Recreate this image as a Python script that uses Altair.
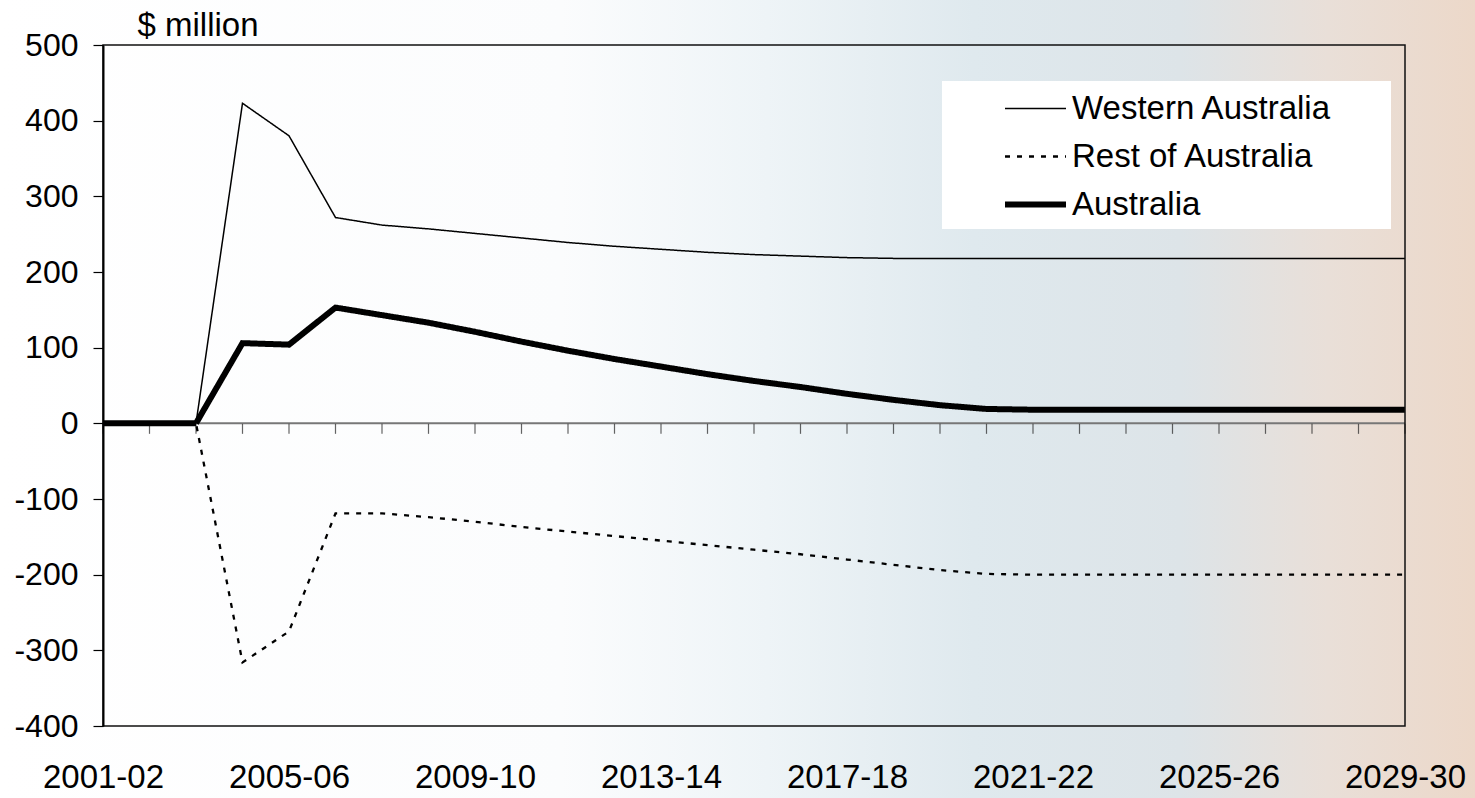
import altair as alt
import pandas as pd

# Financial years on the horizontal axis
years = [
    "2001-02", "2002-03", "2003-04", "2004-05", "2005-06", "2006-07", "2007-08",
    "2008-09", "2009-10", "2010-11", "2011-12", "2012-13", "2013-14", "2014-15",
    "2015-16", "2016-17", "2017-18", "2018-19", "2019-20", "2020-21", "2021-22",
    "2022-23", "2023-24", "2024-25", "2025-26", "2026-27", "2027-28", "2028-29",
    "2029-30",
]

# $ million, deviation from baseline
western_australia = [
    0, 0, 0, 423, 380, 272, 262, 257, 251, 245, 239, 234, 230, 226, 223,
    221, 219, 218, 218, 218, 218, 218, 218, 218, 218, 218, 218, 218, 218,
]
rest_of_australia = [
    0, 0, 0, -316, -275, -119, -119, -124, -130, -137, -143, -149, -155, -161,
    -167, -173, -180, -187, -194, -199, -200, -200, -200, -200, -200, -200,
    -200, -200, -200,
]
australia = [
    0, 0, 0, 106, 104, 153, 143, 133, 121, 108, 96, 85, 75, 65, 56,
    48, 39, 31, 24, 19, 18, 18, 18, 18, 18, 18, 18, 18, 18,
]

series_names = ["Western Australia", "Rest of Australia", "Australia"]
y_ticks = [-400, -300, -200, -100, 0, 100, 200, 300, 400, 500]
x_labels = ["2001-02", "2005-06", "2009-10", "2013-14", "2017-18", "2021-22",
            "2025-26", "2029-30"]

# line styling per series
line_widths = {"Western Australia": 1.5, "Rest of Australia": 2.3, "Australia": 6}
line_dashes = {"Western Australia": [1, 0], "Rest of Australia": [5, 7], "Australia": [1, 0]}

rows = []
for name, values in zip(series_names, [western_australia, rest_of_australia, australia]):
    for yr, v in zip(years, values):
        rows.append({"year": yr, "value": v, "series": name})
df = pd.DataFrame(rows)
year_df = pd.DataFrame({"year": years})
one_row = pd.DataFrame({"k": [0]})

FONT = "Liberation Sans"
W, H = 1302, 681

x_enc = alt.X(
    "year:N",
    sort=years,
    scale=alt.Scale(type="point", padding=0),
    axis=alt.Axis(
        values=x_labels, title=None, ticks=False, domain=False, grid=False,
        labelAngle=0, labelFontSize=33, labelFont=FONT, labelColor="black",
        labelPadding=35, zindex=1,
    ),
)
y_scale = alt.Scale(domain=[-400, 500], nice=False)

# soft backdrop behind the whole figure
backdrop = alt.Chart(one_row).mark_rect(
    color=alt.LinearGradient(
        gradient="linear",
        x1=0, x2=1, y1=0, y2=0,
        stops=[
            alt.GradientStop(color="#ffffff", offset=0),
            alt.GradientStop(color="#fbfcfd", offset=0.38),
            alt.GradientStop(color="#eef4f7", offset=0.52),
            alt.GradientStop(color="#dfe9ee", offset=0.66),
            alt.GradientStop(color="#dde4e8", offset=0.8),
            alt.GradientStop(color="#e9dfd8", offset=0.9),
            alt.GradientStop(color="#ecd8c9", offset=1),
        ],
    )
).encode(
    x=alt.value(-103), x2=alt.value(W + 70),
    y=alt.value(-45), y2=alt.value(H + 72),
)

legend_box = alt.Chart(one_row).mark_rect(color="white").encode(
    x=alt.value(839), x2=alt.value(1288), y=alt.value(36), y2=alt.value(184),
)

# border round the plotting area
frame = alt.Chart(one_row).mark_rect(
    filled=False, stroke="#111111", strokeWidth=1.5
).encode(x=alt.value(0), x2=alt.value(W), y=alt.value(0), y2=alt.value(H))

zero_line = alt.Chart(one_row).mark_rule(
    color="#777777", strokeWidth=2
).encode(y=alt.datum(0, scale=y_scale))

year_ticks = alt.Chart(year_df).mark_tick(
    color="#222222", thickness=1.2, size=10, orient="vertical", yOffset=5.5
).encode(x=x_enc, y=alt.datum(0, scale=y_scale))

width_expr = " : ".join(
    f"datum.value === '{name}' ? {line_widths[name]}" for name in series_names[1:]
) + f" : {line_widths[series_names[0]]}"

legend = alt.Legend(
    title=None, orient="none", legendX=916, legendY=47,
    symbolType="stroke", symbolSize=3721, symbolStrokeColor="black",
    symbolStrokeWidth=alt.ExprRef(expr=width_expr),
    labelFont=FONT, labelFontSize=33, labelColor="black", labelOffset=20,
    labelLimit=500, rowPadding=14, padding=0,
)

y_enc = alt.Y(
    "value:Q", scale=y_scale,
    axis=alt.Axis(
        values=y_ticks, labelExpr="'' + datum.value",
        title="$ million", titleAngle=0, titleAlign="left",
        titleBaseline="middle", titleX=34, titleY=-20, titleFont=FONT,
        titleFontSize=33, titleFontWeight="normal", titleColor="black",
        labelFont=FONT, labelFontSize=32, labelColor="black", labelPadding=15,
        tickSize=10, tickColor="black", tickWidth=1.2,
        domainColor="black", domainWidth=2, grid=False, zindex=1,
    ),
)
dash_enc = alt.StrokeDash(
    "series:N",
    scale=alt.Scale(domain=series_names, range=[line_dashes[n] for n in series_names]),
    legend=legend,
)

line_layers = [
    alt.Chart(df).transform_filter(alt.datum.series == name).mark_line(
        color="black", strokeWidth=line_widths[name], strokeJoin="miter"
    ).encode(x=x_enc, y=y_enc, strokeDash=dash_enc, order=alt.Order("year:N"))
    for name in series_names
]

chart = alt.layer(
    backdrop, legend_box, zero_line, year_ticks, *line_layers, frame
).properties(
    width=W, height=H,
    autosize=alt.AutoSizeParams(type="none"),
    padding={"left": 103, "top": 45, "right": 70, "bottom": 72},
).configure_view(
    strokeWidth=0
).configure(background="white")

chart.save("out.html", embed_options={"renderer": "svg", "actions": False})
